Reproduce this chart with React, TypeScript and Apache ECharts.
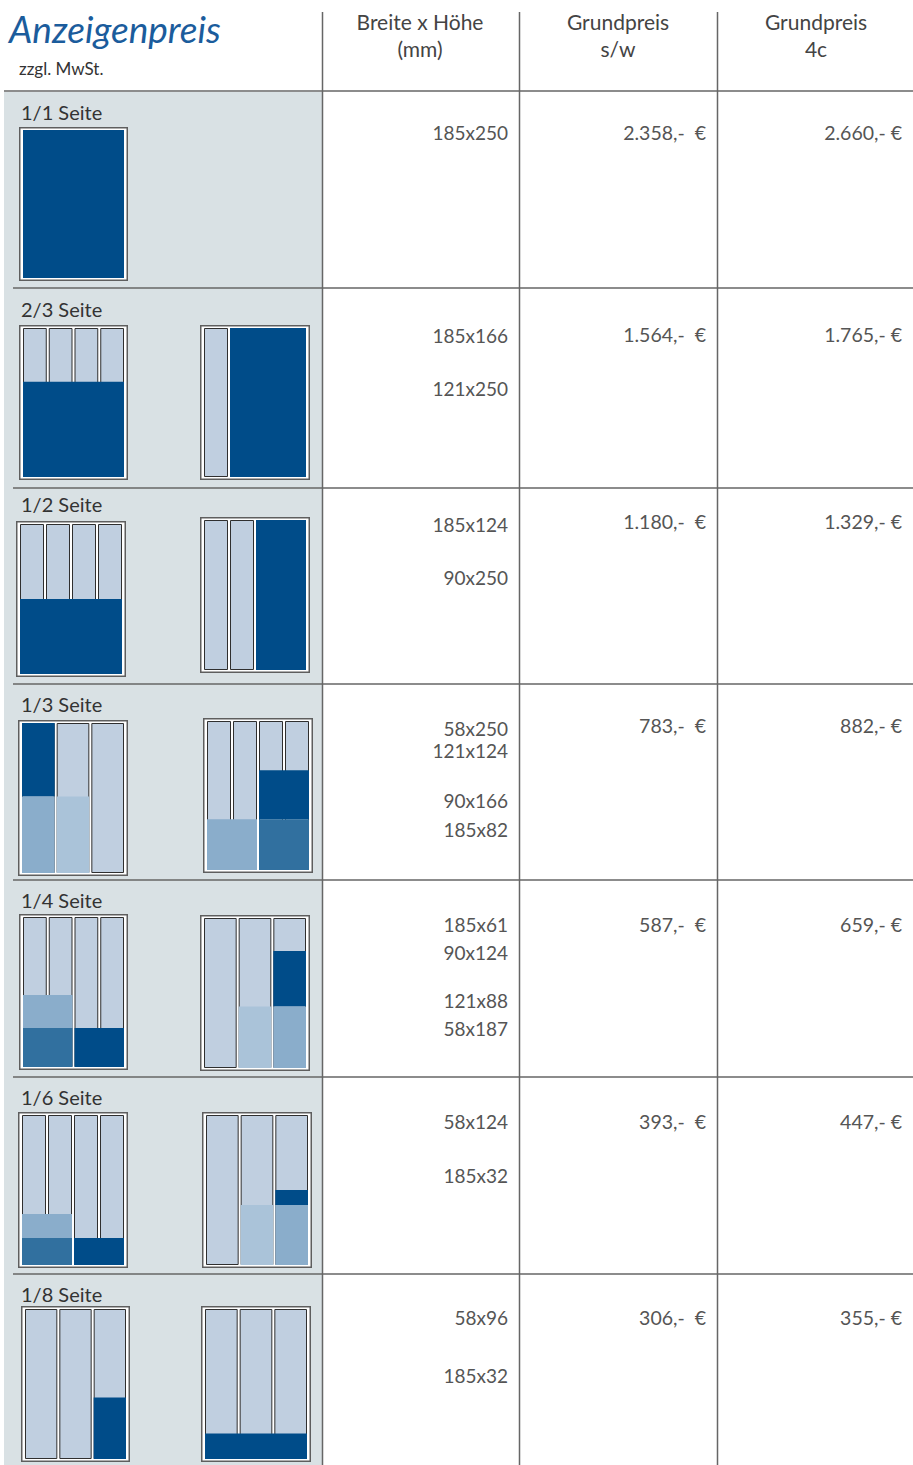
import React, { useEffect, useRef } from "react";
import * as echarts from "echarts";

// ---------- data ----------
const titleText = "Anzeigenpreis";
const subtitleText = "zzgl. MwSt.";
const headerCols = [
  ["Breite x Höhe", "(mm)"],
  ["Grundpreis", "s/w"],
  ["Grundpreis", "4c"],
];
const rowLabels = ["1/1 Seite", "2/3 Seite", "1/2 Seite", "1/3 Seite", "1/4 Seite", "1/6 Seite", "1/8 Seite"];
const formats = [
  ["185x250"],
  ["185x166", "121x250"],
  ["185x124", "90x250"],
  ["58x250", "121x124", "90x166", "185x82"],
  ["185x61", "90x124", "121x88", "58x187"],
  ["58x124", "185x32"],
  ["58x96", "185x32"],
];
const priceSW = [2358, 1564, 1180, 783, 587, 393, 306];
const price4c = [2660, 1765, 1329, 882, 659, 447, 355];

// page-layout icons: number of columns per icon (left, right)
const iconColumns = [[1], [4, 4], [4, 4], [3, 4], [4, 3], [4, 3], [3, 3]];
// fills: [colStart, colEnd, yTop, yBottom (fraction of page height), tone]
const iconFills: any[][][] = [
  [[[0, 1, 0, 1, "dark"]]],
  [[[0, 4, 0.36, 1, "dark"]], [[1, 4, 0, 1, "dark"]]],
  [[[0, 4, 0.5, 1, "dark"]], [[2, 4, 0, 1, "dark"]]],
  [
    [[0, 1, 0, 0.49, "dark"], [0, 1, 0.49, 1, "mid"], [1, 2, 0.49, 1, "pale"]],
    [[2, 4, 0.33, 0.66, "dark"], [0, 2, 0.66, 1, "mid"], [2, 4, 0.66, 1, "steel"]],
  ],
  [
    [[0, 2, 0.52, 0.74, "mid"], [0, 2, 0.74, 1, "steel"], [2, 4, 0.74, 1, "dark"]],
    [[1, 2, 0.59, 1, "pale"], [2, 3, 0.22, 0.59, "dark"], [2, 3, 0.59, 1, "mid"]],
  ],
  [
    [[0, 2, 0.66, 0.82, "mid"], [0, 2, 0.82, 1, "steel"], [2, 4, 0.82, 1, "dark"]],
    [[1, 2, 0.6, 1, "pale"], [2, 3, 0.5, 0.6, "dark"], [2, 3, 0.6, 1, "mid"]],
  ],
  [[[2, 3, 0.59, 1, "dark"]], [[0, 3, 0.83, 1, "dark"]]],
];

// ---------- layout ----------
const W = 913;
const H = 1465;
const FONT = "Lato, 'Source Sans Pro', 'Noto Sans', sans-serif";
const colX = [322.5, 519.5, 717.5];
const headerCenters = [420, 618, 816];
const headerLineY = 91;
const rowLineY = [288, 488, 684, 880, 1077, 1274];
const rowLabelY = [112, 309, 504, 704, 900, 1097, 1294];
const formatY = [
  [132],
  [335, 388],
  [524, 577],
  [728, 750, 800, 829],
  [924, 952, 1000, 1028],
  [1121, 1175],
  [1317, 1375],
];
const priceY = [132, 334, 521, 725, 924, 1121, 1317];
// outer frame boxes of icons [x, y, w, h]
const iconBoxes = [
  [[19, 127, 109, 154]],
  [[19, 325, 109, 155], [200, 325, 110, 155]],
  [[16, 521, 110, 156], [200, 517, 110, 156]],
  [[18, 720, 110, 156], [203, 718, 110, 155]],
  [[19, 914, 109, 156], [200, 915, 110, 156]],
  [[18, 1112, 110, 156], [202, 1112, 110, 156]],
  [[21, 1306, 109, 156], [201, 1306, 110, 156]],
];
const PAD = 3;
const TONES: Record<string, string> = {
  dark: "#004c89",
  mid: "#8aadcb",
  pale: "#aac3d9",
  steel: "#31709f",
};
const toneKeys = ["dark", "mid", "pale", "steel"];
const LIGHT = "#c0cfe0";

function fmtPrice(n: number, sep: string) {
  const s = n >= 1000 ? `${Math.floor(n / 1000)}.${String(n % 1000).padStart(3, "0")}` : String(n);
  return `${s},-${sep}€`;
}

const renderItem = (params: any, api: any) => {
  const x0 = api.value(0);
  const x1 = api.value(1);
  const y0 = api.value(2);
  const y1 = api.value(3);
  const kind = api.value(4);
  const a = api.coord([x0, y0]);
  const b = api.coord([x1, y1]);
  const x = Math.min(a[0], b[0]);
  const y = Math.min(a[1], b[1]);
  const w = Math.abs(b[0] - a[0]);
  const h = Math.abs(b[1] - a[1]);
  if (kind === 0) {
    return {
      type: "rect",
      shape: { x: x - PAD + 0.75, y: y - PAD + 0.75, width: w + 2 * PAD - 1.5, height: h + 2 * PAD - 1.5 },
      style: { fill: "#ffffff", stroke: "#5e5e5e", lineWidth: 1.5 },
    };
  }
  if (kind === 1) {
    return {
      type: "rect",
      shape: { x: x + 1.5, y: y + 0.5, width: w - 3, height: h - 1 },
      style: { fill: LIGHT, stroke: "#2f2f2f", lineWidth: 1 },
    };
  }
  return {
    type: "rect",
    shape: { x: x + 1, y: y, width: w - 2, height: h },
    style: { fill: TONES[toneKeys[kind - 2]] },
  };
};

export default function App() {
  const ref = useRef<HTMLDivElement>(null);
  useEffect(() => {
    document.body.style.margin = "0";
    const chart = echarts.init(ref.current!, null, { renderer: "svg" });

    const grids: any[] = [];
    const xAxes: any[] = [];
    const yAxes: any[] = [];
    const series: any[] = [];
    let k = 0;
    iconColumns.forEach((cols, r) => {
      cols.forEach((nc, s) => {
        const [bx, by, bw, bh] = iconBoxes[r][s];
        grids.push({ left: bx + PAD, top: by + PAD, width: bw - 2 * PAD, height: bh - 2 * PAD, show: false });
        xAxes.push({ type: "value", gridIndex: k, min: 0, max: nc, show: false });
        yAxes.push({ type: "value", gridIndex: k, min: 0, max: 1, inverse: true, show: false });
        const data: number[][] = [[0, nc, 0, 1, 0]];
        for (let c = 0; c < nc; c++) data.push([c, c + 1, 0, 1, 1]);
        iconFills[r][s].forEach((f: any) => data.push([f[0], f[1], f[2], f[3], 2 + toneKeys.indexOf(f[4])]));
        series.push({
          type: "custom",
          xAxisIndex: k,
          yAxisIndex: k,
          clip: false,
          silent: true,
          z: 5,
          data,
          renderItem,
        });
        k++;
      });
    });

    const elements: any[] = [];
    // left column background
    elements.push({
      type: "rect",
      z: -10,
      shape: { x: 4, y: headerLineY + 1, width: colX[0] - 4, height: H - headerLineY - 1 },
      style: { fill: "#d9e1e4" },
    });
    // title
    elements.push({
      type: "text",
      x: 9,
      y: 28,
      style: {
        text: titleText,
        fontSize: 37,
        fontStyle: "italic",
        fontFamily: FONT,
        fill: "#1b5c9c",
        align: "left",
        verticalAlign: "middle",
      },
    });
    elements.push({
      type: "text",
      x: 19,
      y: 68,
      style: { text: subtitleText, fontSize: 17, fontFamily: FONT, fill: "#333", align: "left", verticalAlign: "middle" },
    });
    headerCols.forEach((lines, i) => {
      lines.forEach((t, j) => {
        elements.push({
          type: "text",
          x: headerCenters[i],
          y: 21 + j * 27,
          style: { text: t, fontSize: 21, fontFamily: FONT, fill: "#444", align: "center", verticalAlign: "middle" },
        });
      });
    });
    // lines
    colX.forEach((x) => {
      elements.push({
        type: "line",
        z: 50,
        shape: { x1: x, y1: 12, x2: x, y2: H },
        style: { stroke: "#666", lineWidth: 1.5 },
      });
    });
    elements.push({
      type: "line",
      z: 50,
      shape: { x1: 4, y1: headerLineY, x2: W, y2: headerLineY },
      style: { stroke: "#666", lineWidth: 1.5 },
    });
    rowLineY.forEach((y) => {
      elements.push({
        type: "line",
        z: 50,
        shape: { x1: 13, y1: y, x2: W, y2: y },
        style: { stroke: "#666", lineWidth: 1.5 },
      });
    });
    // row texts
    rowLabels.forEach((lab, r) => {
      elements.push({
        type: "text",
        x: 21,
        y: rowLabelY[r],
        style: { text: lab, fontSize: 20, fontFamily: FONT, fill: "#333", align: "left", verticalAlign: "middle" },
      });
      formats[r].forEach((f, j) => {
        elements.push({
          type: "text",
          x: 508,
          y: formatY[r][j],
          style: { text: f, fontSize: 19, fontFamily: FONT, fill: "#555", align: "right", verticalAlign: "middle" },
        });
      });
      elements.push({
        type: "text",
        x: 706,
        y: priceY[r],
        style: { text: fmtPrice(priceSW[r], "  "), fontSize: 19.5, fontFamily: FONT, fill: "#555", align: "right", verticalAlign: "middle" },
      });
      elements.push({
        type: "text",
        x: 902,
        y: priceY[r],
        style: { text: fmtPrice(price4c[r], " "), fontSize: 19.5, fontFamily: FONT, fill: "#555", align: "right", verticalAlign: "middle" },
      });
    });

    chart.setOption({
      animation: false,
      backgroundColor: "#ffffff",
      grid: grids,
      xAxis: xAxes,
      yAxis: yAxes,
      series,
      graphic: { elements },
    });
    return () => chart.dispose();
  }, []);
  return <div ref={ref} style={{ position: "absolute", left: 0, top: 0, width: W, height: H }} />;
}
